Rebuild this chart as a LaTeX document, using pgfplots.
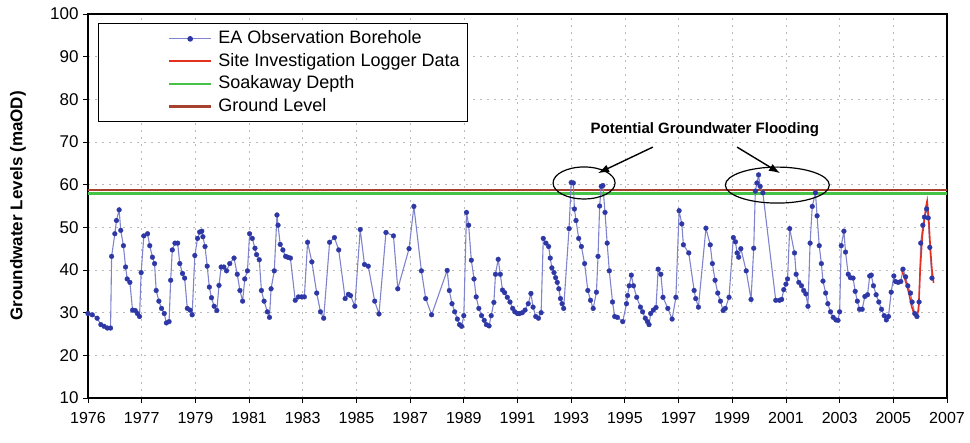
\documentclass[border=0pt]{standalone}
\usepackage{pgfplots}
\pgfplotsset{compat=1.18}
\usetikzlibrary{arrows.meta}
\usepackage{fontspec}
\setmainfont{Liberation Sans}
\definecolor{bline}{RGB}{128,132,205}
\definecolor{bmark}{RGB}{45,55,165}
\definecolor{logred}{RGB}{228,48,30}
\definecolor{soakgreen}{RGB}{70,195,70}
\definecolor{groundbrown}{RGB}{165,65,45}
\begin{document}
\begin{tikzpicture}
\path[use as bounding box] (-88bp,-45bp) rectangle (882bp,398bp);
\begin{axis}[
  at={(0,0)}, anchor=south west,
  scale only axis, width=859bp, height=384bp,
  xmin=0, xmax=16, ymin=10, ymax=100,
  xtick={0,...,16},
  xticklabels={1976,1977,1979,1981,1983,1985,1987,1989,1991,1993,1995,1997,1999,2001,2003,2005,2007},
  ytick={10,20,...,100},
  tick align=outside, major tick length=5bp,
  xtick pos=bottom, ytick pos=left,
  /pgf/number format/assume math mode=true,
  yticklabel style={font=\fontsize{17bp}{19bp}\selectfont, xshift=-1bp},
  xticklabel style={font=\fontsize{16bp}{18bp}\selectfont, yshift=-6bp},
  axis line style={black, line width=1.5bp},
  tick style={black, line width=0.8bp},
  grid=major,
  major grid style={gray!55, line width=0.6bp, dash pattern=on 2bp off 5bp},
  ylabel={\bfseries Groundwater Levels (maOD)},
  every axis y label/.style={at={(axis description cs:0,0.5)}, xshift=-70bp, anchor=center, rotate=90, font=\fontsize{17bp}{19bp}\selectfont},
  legend style={at={(axis cs:0,100)}, anchor=north west, xshift=10bp, yshift=-9bp,
    draw=black, line width=1.2bp, inner xsep=2bp, inner ysep=4bp,
    font=\fontsize{18bp}{20bp}\selectfont, row sep=0bp,
    nodes={inner xsep=6bp, inner ysep=1bp, text height=15bp, text depth=5.5bp}},
  legend cell align=left,
]
% reference lines (drawn first, beneath the data)
\addplot[soakgreen, line width=2.5bp, forget plot] coordinates {(0,57.9) (16,57.9)};
\addplot[groundbrown, line width=2bp, forget plot] coordinates {(0,58.7) (16,58.7)};
% EA observation borehole
\addplot[bline, line width=1.1bp, mark=*, mark size=2.4bp,
  mark options={fill=bmark, draw=bmark, line width=0.3bp}, forget plot]
coordinates {
(0.00,29.8) (0.08,29.5) (0.17,28.7) (0.24,27.2) (0.30,26.8) (0.36,26.4) (0.42,26.4) (0.44,43.2) (0.50,48.5) (0.53,51.6) (0.58,54.1) (0.61,49.3) (0.66,45.7) (0.70,40.7) (0.73,37.9) (0.78,37.1) (0.83,30.6) (0.88,30.5) (0.92,29.8) (0.96,29.1) (0.99,39.4) (1.04,48.0) (1.11,48.5) (1.15,45.7) (1.20,43.0) (1.24,41.5) (1.27,35.2) (1.32,32.7) (1.37,31.0) (1.42,29.8) (1.46,27.6) (1.51,27.9) (1.54,37.6) (1.57,44.7) (1.62,46.3) (1.67,46.3) (1.71,41.5) (1.76,39.2) (1.80,38.1) (1.85,31.0) (1.90,30.6) (1.94,29.5) (1.99,43.4) (2.04,47.4) (2.08,48.9) (2.12,49.1) (2.14,47.8) (2.18,45.5) (2.22,40.9) (2.26,36.0) (2.30,33.5) (2.35,31.5) (2.40,30.5) (2.44,36.4) (2.48,40.7) (2.53,40.7) (2.58,39.8) (2.64,41.5) (2.72,42.8) (2.78,39.0) (2.83,35.2) (2.88,32.7) (2.92,37.9) (2.97,39.8) (3.01,48.5) (3.06,47.4) (3.11,45.1) (3.14,43.6) (3.19,42.4) (3.23,35.2) (3.28,32.7) (3.34,30.2) (3.38,28.9) (3.41,35.6) (3.47,39.8) (3.52,52.9) (3.54,50.5) (3.58,46.0) (3.63,44.7) (3.68,43.2) (3.72,43.0) (3.77,42.8) (3.86,32.9) (3.92,33.7) (3.98,33.7) (4.03,33.7) (4.09,46.5) (4.17,41.9) (4.26,34.6) (4.33,30.2) (4.39,28.7) (4.50,46.5) (4.59,47.6) (4.67,44.7) (4.79,33.3) (4.85,34.3) (4.89,34.0) (4.97,31.5) (5.07,49.5) (5.15,41.3) (5.22,40.9) (5.34,32.7) (5.42,29.7) (5.55,48.8) (5.69,48.0) (5.77,35.6) (5.98,45.0) (6.07,54.9) (6.21,39.8) (6.29,33.3) (6.40,29.5) (6.69,39.9) (6.73,35.2) (6.78,32.1) (6.83,30.2) (6.88,28.5) (6.92,27.2) (6.96,26.8) (7.00,29.3) (7.05,53.5) (7.09,50.5) (7.14,42.3) (7.19,37.9) (7.23,33.7) (7.28,31.0) (7.33,29.3) (7.38,28.2) (7.42,27.2) (7.47,26.9) (7.51,29.3) (7.56,32.4) (7.59,39.0) (7.64,42.5) (7.68,39.0) (7.72,35.3) (7.76,34.7) (7.81,33.6) (7.86,32.5) (7.91,31.0) (7.95,30.2) (8.00,29.8) (8.04,29.8) (8.09,30.0) (8.14,30.6) (8.20,32.1) (8.25,34.5) (8.29,31.3) (8.34,29.1) (8.39,28.7) (8.44,30.0) (8.48,47.4) (8.53,46.3) (8.58,45.5) (8.61,42.8) (8.64,40.5) (8.68,39.4) (8.71,38.2) (8.74,37.1) (8.77,35.6) (8.80,33.3) (8.83,32.1) (8.86,31.0) (8.96,49.7) (9.00,60.5) (9.04,60.4) (9.06,54.3) (9.09,51.6) (9.14,47.4) (9.19,45.5) (9.25,41.5) (9.31,35.2) (9.36,32.9) (9.41,31.0) (9.47,34.8) (9.50,43.2) (9.53,55.0) (9.56,59.6) (9.59,59.8) (9.63,53.5) (9.67,46.3) (9.71,39.8) (9.77,32.5) (9.81,29.1) (9.86,28.9) (9.96,27.9) (10.03,32.1) (10.05,34.0) (10.08,36.3) (10.12,38.8) (10.16,36.3) (10.22,33.6) (10.29,31.3) (10.33,30.2) (10.38,28.7) (10.42,27.9) (10.45,27.2) (10.48,29.8) (10.53,30.6) (10.58,31.2) (10.62,40.2) (10.67,39.0) (10.71,33.6) (10.80,31.0) (10.88,28.5) (10.95,33.6) (11.01,53.9) (11.06,50.8) (11.09,45.9) (11.19,44.0) (11.29,35.2) (11.32,33.3) (11.37,31.3) (11.51,49.8) (11.59,45.9) (11.63,41.5) (11.68,37.6) (11.73,34.6) (11.78,32.7) (11.83,30.5) (11.87,31.0) (11.94,33.6) (12.02,47.6) (12.06,46.6) (12.09,44.0) (12.12,43.0) (12.16,45.0) (12.26,39.8) (12.35,33.1) (12.40,45.1) (12.43,58.5) (12.46,60.4) (12.49,62.3) (12.52,59.6) (12.57,58.1) (12.81,32.9) (12.88,32.9) (12.92,33.1) (12.96,35.4) (13.00,36.7) (13.03,37.9) (13.07,49.7) (13.16,44.0) (13.19,39.0) (13.24,37.1) (13.29,36.3) (13.33,35.2) (13.37,34.4) (13.41,31.5) (13.45,46.3) (13.49,54.9) (13.55,58.1) (13.58,52.7) (13.62,45.7) (13.66,41.5) (13.69,37.4) (13.74,34.6) (13.78,32.1) (13.83,30.2) (13.88,28.9) (13.93,28.3) (13.97,28.2) (14.00,30.2) (14.03,45.7) (14.08,49.1) (14.11,44.2) (14.16,39.0) (14.20,38.2) (14.25,38.1) (14.29,35.0) (14.33,32.7) (14.37,30.8) (14.42,30.8) (14.47,33.8) (14.52,34.2) (14.56,38.6) (14.59,38.8) (14.63,36.3) (14.68,34.2) (14.73,32.5) (14.78,30.8) (14.83,29.3) (14.87,28.3) (14.91,29.1) (14.96,34.8) (15.01,38.6) (15.04,37.3) (15.09,37.1) (15.14,37.3) (15.18,40.2) (15.23,38.4) (15.27,36.3) (15.32,34.6) (15.35,32.5) (15.40,29.8) (15.44,29.1) (15.48,32.5) (15.51,46.3) (15.55,50.5) (15.58,52.4) (15.62,54.3) (15.65,52.2) (15.68,45.3) (15.72,38.1)
};
% site investigation logger
\addplot[logred, line width=1.6bp, forget plot] coordinates {
(15.16,39.8) (15.20,38.5) (15.25,36.5) (15.30,34.0) (15.34,31.5) (15.38,30.0) (15.43,29.0) (15.47,30.5) (15.50,40.0) (15.54,48.0) (15.58,52.0) (15.61,55.0) (15.63,56.2) (15.66,52.0) (15.69,45.0) (15.72,40.0) (15.75,37.0)
};
% legend
\addlegendimage{legend image code/.code={\path (0bp,0bp) (110bp,0bp); \draw[bline, line width=1.1bp] (68bp,0bp) -- (110bp,0bp); \fill[bmark] (89bp,0bp) circle (2.2bp);}}
\addlegendentry{EA Observation Borehole}
\addlegendimage{legend image code/.code={\path (0bp,0bp) (110bp,0bp); \draw[logred, line width=1.8bp] (68bp,0bp) -- (110bp,0bp);}}
\addlegendentry{Site Investigation Logger Data}
\addlegendimage{legend image code/.code={\path (0bp,0bp) (110bp,0bp); \draw[soakgreen, line width=2.5bp] (68bp,0bp) -- (110bp,0bp);}}
\addlegendentry{Soakaway Depth}
\addlegendimage{legend image code/.code={\path (0bp,0bp) (110bp,0bp); \draw[groundbrown, line width=2.5bp] (68bp,0bp) -- (110bp,0bp);}}
\addlegendentry{Ground Level}
% annotation
\draw[black, line width=1.2bp] (axis cs:9.24,60.4) ellipse [x radius=31bp, y radius=16bp];
\draw[black, line width=1.2bp] (axis cs:12.84,59.9) ellipse [x radius=52bp, y radius=18bp];
\draw[black, line width=1.4bp, -{Latex[length=11bp, width=8bp]}] (axis cs:10.52,68.8) -- (axis cs:9.50,62.7);
\draw[black, line width=1.4bp, -{Latex[length=11bp, width=8bp]}] (axis cs:12.09,68.8) -- (axis cs:12.89,62.7);
\node[font=\fontsize{15bp}{17bp}\selectfont\bfseries] at (axis cs:11.49,72.8) {Potential Groundwater Flooding};
\end{axis}
\end{tikzpicture}
\end{document}
